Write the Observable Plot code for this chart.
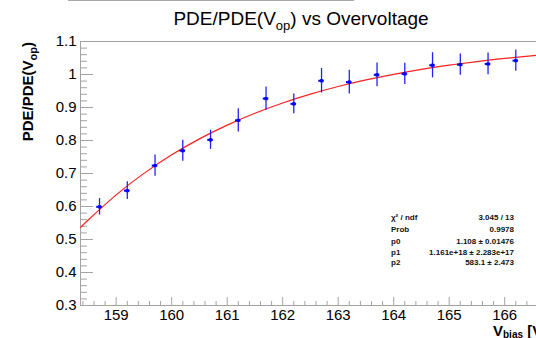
<!DOCTYPE html>
<html><head><meta charset="utf-8">
<script src="https://cdn.jsdelivr.net/npm/d3@7"></script>
<script src="https://cdn.jsdelivr.net/npm/@observablehq/plot@0.6"></script>
<style>body{margin:0;background:#fff} svg{display:block}</style>
</head><body><div id="chart"></div>
<script>
// ---- data ----
const vbias  = [158.7, 159.2, 159.7, 160.2, 160.7, 161.2, 161.7, 162.2, 162.7, 163.2, 163.7, 164.2, 164.7, 165.2, 165.7, 166.2];
const pde    = [0.599, 0.648, 0.724, 0.769, 0.802, 0.861, 0.927, 0.911, 0.981, 0.977, 0.999, 1.002, 1.028, 1.030, 1.032, 1.042];
const pdeErr = [0.025, 0.027, 0.032, 0.032, 0.029, 0.035, 0.035, 0.030, 0.037, 0.036, 0.036, 0.032, 0.038, 0.032, 0.033, 0.032];
const vErr   = [0.05, 0.05, 0.05, 0.05, 0.05, 0.05, 0.05, 0.05, 0.05, 0.05, 0.05, 0.05, 0.05, 0.05, 0.05, 0.05];
// fit curve
const fitV   = [158.36, 158.5, 159.0, 159.5, 160.0, 160.5, 161.0, 161.5, 162.0, 162.5, 163.0, 163.5, 164.0, 164.5, 165.0, 165.5, 166.0, 166.57];
const fitPDE = [0.5365, 0.5597, 0.6353, 0.7004, 0.7565, 0.8050, 0.8467, 0.8827, 0.9138, 0.9406, 0.9636, 0.9835, 1.0006, 1.0155, 1.0282, 1.0392, 1.0486, 1.0579];
const xTicks = [159, 160, 161, 162, 163, 164, 165, 166];
const xTickLabels = ["159", "160", "161", "162", "163", "164", "165", "166"];
const yTicks = [0.3, 0.4, 0.5, 0.6, 0.7, 0.8, 0.9, 1.0, 1.1];
const yTickLabels = ["0.3", "0.4", "0.5", "0.6", "0.7", "0.8", "0.9", "1", "1.1"];
const statLabels = ["χ² / ndf", "Prob", "p0", "p1", "p2"];
const statValues = ["3.045 / 13", "0.9978", "1.108 ± 0.01476", "1.161e+18 ± 2.283e+17", "583.1 ± 2.473"];

// ---- layout ----
const W = 536, H = 338;
const mL = 80, mR = 0, mT = 41, mB = 33;
const plotW = W - mL - mR, plotH = H - mT - mB;
const xDomain = [158.357, 166.573];
const yDomain = [0.3, 1.1];
const grey = "#a3a3a3";
const font = "'Liberation Sans', Arial, Helvetica, sans-serif";

const xMinor = d3.range(0, 42).map(i => +(158.4 + 0.2 * i).toFixed(1)).filter(v => v <= xDomain[1] && !xTicks.includes(v));
const yMinor = d3.range(0, 41).map(i => +(0.3 + 0.02 * i).toFixed(2));

const points = vbias.map((v, i) => ({v, y: pde[i], e: pdeErr[i], ex: vErr[i]}));
const fit = fitV.map((v, i) => ({v, y: fitPDE[i]}));

const svg = Plot.plot({
  width: W, height: H,
  marginLeft: mL, marginRight: mR, marginTop: mT, marginBottom: mB,
  style: {fontFamily: font, background: "white", color: "black"},
  x: {domain: xDomain},
  y: {domain: yDomain},
  marks: [
    Plot.ruleY(yMinor, {stroke: grey, insetRight: plotW - 7}),
    Plot.ruleY(yTicks, {stroke: grey, insetRight: plotW - 13}),
    Plot.ruleX(xMinor, {stroke: grey, insetTop: plotH - 4}),
    Plot.ruleX(xTicks, {stroke: grey, insetTop: plotH - 8}),
    Plot.ruleY([yDomain[1]], {stroke: grey}),
    Plot.ruleY([yDomain[0]], {stroke: grey}),
    Plot.ruleX([xDomain[0]], {stroke: grey}),
    Plot.axisY({ticks: yTicks, tickSize: 0, tickPadding: 4, fontSize: 15, label: null,
      tickFormat: d => yTickLabels[yTicks.indexOf(d)]}),
    Plot.axisX({ticks: xTicks, tickSize: 0, tickPadding: 4, fontSize: 15, label: null,
      tickFormat: d => xTickLabels[xTicks.indexOf(d)]}),
    Plot.line(fit, {x: "v", y: "y", stroke: "#ff2020", strokeWidth: 1.2, curve: "natural"}),
    Plot.ruleX(points, {x: "v", y1: d => d.y - d.e, y2: d => d.y + d.e, stroke: "#2222ff", strokeWidth: 1.3}),
    Plot.ruleY(points, {y: "y", x1: d => d.v - d.ex, x2: d => d.v + d.ex, stroke: "#0000ff", strokeWidth: 2}),
    Plot.dot(points, {x: "v", y: "y", r: 1.8, fill: "#0000ff", symbol: "square"})
  ]
});
document.getElementById("chart").appendChild(svg);

const s = d3.select(svg);
// faint line at the very top (edge of a pad above)
s.append("line").attr("x1", 68).attr("x2", 354).attr("y1", 0.5).attr("y2", 0.5).attr("stroke", "#aaa");

// title
const t = s.append("text").attr("x", 301).attr("y", 25).attr("text-anchor", "middle")
  .style("font-family", font).style("font-size", "19px").attr("fill", "black");
t.append("tspan").text("PDE/PDE(V");
t.append("tspan").attr("dy", 4.5).style("font-size", "13px").text("op");
t.append("tspan").attr("dy", -4.5).text(") vs Overvoltage");

// y label
const yl = s.append("text").attr("transform", "translate(33,42) rotate(-90)").attr("text-anchor", "end")
  .style("font-family", font).style("font-size", "15px").style("font-weight", "bold").attr("fill", "black");
yl.append("tspan").text("PDE/PDE(V");
yl.append("tspan").attr("dy", 4).style("font-size", "11px").text("op");
yl.append("tspan").attr("dy", -4).text(")");

// x label
const xl = s.append("text").attr("x", 493).attr("y", 335.5).attr("text-anchor", "start")
  .style("font-family", font).style("font-size", "15px").style("font-weight", "bold").attr("fill", "black");
xl.append("tspan").text("V");
xl.append("tspan").attr("dy", 2).style("font-size", "10px").text("bias");
xl.append("tspan").attr("dy", -2).text(" [V]");

// stats box
const rowsY = [220, 232, 243.5, 254.5, 264.5];
statLabels.forEach((lab, i) => {
  s.append("text").attr("x", 391).attr("y", rowsY[i]).attr("text-anchor", "start").style("font-family", font)
    .style("font-size", "8px").style("font-weight", "bold").attr("fill", "#111").text(lab);
  s.append("text").attr("x", 514).attr("y", rowsY[i]).attr("text-anchor", "end").style("font-family", font)
    .style("font-size", "8px").style("font-weight", "bold").attr("fill", "#111").text(statValues[i]);
});
</script>
</body></html>
